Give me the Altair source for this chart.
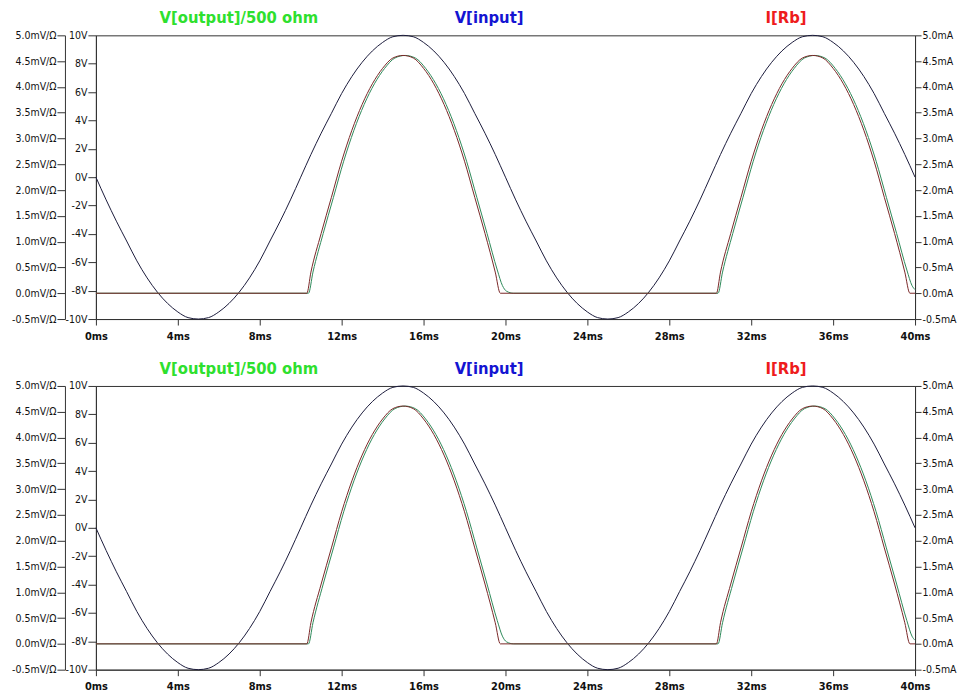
import altair as alt
import pandas as pd

# ---- data ----
t_input = [i * 0.5 for i in range(81)]  # ms
v_input_cycle = [0.0, -1.6, -3.1, -4.5, -5.9, -7.1, -8.1, -8.9, -9.5, -9.9,
                 -10.0, -9.9, -9.5, -8.9, -8.1, -7.1, -5.9, -4.5, -3.1, -1.6,
                 0.0, 1.6, 3.1, 4.5, 5.9, 7.1, 8.1, 8.9, 9.5, 9.9,
                 10.0, 9.9, 9.5, 8.9, 8.1, 7.1, 5.9, 4.5, 3.1, 1.6]
v_input = v_input_cycle + v_input_cycle + [0.0]

t_rb = [0, 10.3, 10.5, 11, 11.5, 12, 12.5, 13, 13.5, 14, 14.5, 15, 15.5, 16,
        16.5, 17, 17.5, 18, 18.5, 19, 19.5, 19.75,
        30.3, 30.5, 31, 31.5, 32, 32.5, 33, 33.5, 34, 34.5, 35, 35.5, 36,
        36.5, 37, 37.5, 38, 38.5, 39, 39.5, 39.75, 40]
i_rb = [0, 0, 0.41, 1.16, 1.86, 2.56, 3.16, 3.66, 4.06, 4.36, 4.56, 4.61, 4.56, 4.36,
        4.06, 3.66, 3.16, 2.56, 1.86, 1.16, 0.41, 0,
        0, 0.41, 1.16, 1.86, 2.56, 3.16, 3.66, 4.06, 4.36, 4.56, 4.61, 4.56, 4.36,
        4.06, 3.66, 3.16, 2.56, 1.86, 1.16, 0.41, 0, 0]

t_out = [0, 10.38, 10.6, 11.1, 11.6, 12.1, 12.6, 13.1, 13.6, 14.1, 14.6, 15.1, 15.6, 16.1,
         16.6, 17.1, 17.6, 18.1, 18.6, 19.1, 19.6, 19.85, 20.05, 20.4,
         30.38, 30.6, 31.1, 31.6, 32.1, 32.6, 33.1, 33.6, 34.1, 34.6, 35.1, 35.6, 36.1,
         36.6, 37.1, 37.6, 38.1, 38.6, 39.1, 39.6, 39.85, 40]
v_out = [0, 0, 0.41, 1.16, 1.86, 2.56, 3.16, 3.66, 4.06, 4.36, 4.56, 4.61, 4.56, 4.36,
         4.06, 3.66, 3.16, 2.56, 1.86, 1.16, 0.45, 0.15, 0.04, 0,
         0, 0.41, 1.16, 1.86, 2.56, 3.16, 3.66, 4.06, 4.36, 4.56, 4.61, 4.56, 4.36,
         4.06, 3.66, 3.16, 2.56, 1.86, 1.16, 0.45, 0.15, 0.07]

legend_text = ["V[output]/500 ohm", "V[input]", "I[Rb]"]
legend_t = [6.98, 19.2, 33.7]
legend_color = ["#2ee02e", "#1414d2", "#ee1c1c"]

x_ticks = [0, 4, 8, 12, 16, 20, 24, 28, 32, 36, 40]
v_ticks = [-10, -8, -6, -4, -2, 0, 2, 4, 6, 8, 10]
m_ticks = [-0.5, 0.0, 0.5, 1.0, 1.5, 2.0, 2.5, 3.0, 3.5, 4.0, 4.5, 5.0]

df_in = pd.DataFrame({"t": t_input, "v": v_input})
df_rb = pd.DataFrame({"t": t_rb, "v": i_rb})
df_out = pd.DataFrame({"t": t_out, "v": v_out})
df_leg = pd.DataFrame({"t": legend_t, "label": legend_text})

FONT = "Liberation Sans Narrow, DejaVu Sans Condensed, Arial Narrow, sans-serif"
AX = "#333333"
FMT = "replace(format(datum.value, '.1f'), '\u2212', '-')"

x_enc = alt.X("t:Q", scale=alt.Scale(domain=[0, 40], nice=False, zero=False),
              axis=alt.Axis(values=x_ticks, labelExpr="datum.value + 'ms'", title=None,
                            tickSize=6, labelPadding=5, grid=False, labelFlush=False,
                            labelFontSize=11, labelFontWeight="bold"))


def panel():
    inp = alt.Chart(df_in).mark_line(color="#1c1c3c", strokeWidth=1, interpolate="monotone").encode(
        x=x_enc,
        y=alt.Y("v:Q", scale=alt.Scale(domain=[-10, 10], nice=False),
                axis=alt.Axis(orient="left", values=v_ticks, labelExpr="datum.value + 'V'",
                              title=None, tickSize=8, labelPadding=1, grid=False,
                              labelFontSize=10.5)))
    out = alt.Chart(df_out).mark_line(color="#2e8a5a", strokeWidth=1, interpolate="monotone").encode(
        x=x_enc,
        y=alt.Y("v:Q", scale=alt.Scale(domain=[-0.5, 5.0], nice=False),
                axis=alt.Axis(orient="left", offset=31, values=m_ticks,
                              labelExpr=FMT + " + 'mV/\u03a9'",
                              title=None, tickSize=8, labelPadding=1, grid=False,
                              labelFontSize=10.5)))
    rb = alt.Chart(df_rb).mark_line(color="#7a2828", strokeWidth=1, interpolate="monotone").encode(
        x=x_enc,
        y=alt.Y("v:Q", scale=alt.Scale(domain=[-0.5, 5.0], nice=False),
                axis=alt.Axis(orient="right", values=m_ticks,
                              labelExpr=FMT + " + 'mA'",
                              title=None, tickSize=6, labelPadding=1, grid=False,
                              labelFontSize=10.5)))
    txt = alt.Chart(df_leg).mark_text(font="Liberation Sans Narrow, DejaVu Sans Condensed, sans-serif",
                                      fontSize=16.5, fontWeight="bold", baseline="middle").encode(
        x=alt.X("t:Q", scale=alt.Scale(domain=[0, 40], nice=False)),
        y=alt.value(-17),
        text="label:N",
        color=alt.Color("label:N", scale=alt.Scale(domain=legend_text, range=legend_color), legend=None))
    return alt.layer(inp, out, rb, txt).resolve_scale(y="independent").properties(width=820, height=284)


chart = alt.vconcat(panel(), panel(), spacing=18).properties(
    padding={"left": 3, "top": 1, "right": 0, "bottom": 0}
).configure_view(stroke=AX, strokeWidth=1).configure_axis(
    labelFont=FONT, labelColor="#111111",
    domainColor=AX, tickColor=AX, domainWidth=1, tickWidth=1
)

chart.save("out.html", embed_options={"renderer": "svg", "actions": False})
